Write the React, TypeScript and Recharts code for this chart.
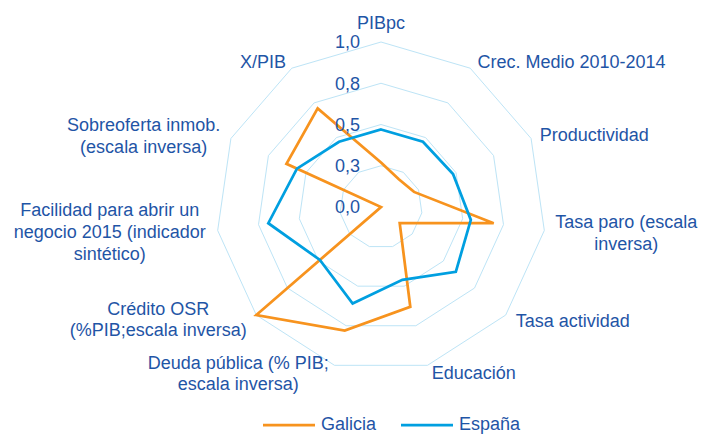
import React from "react";
import {
  RadarChart, Radar, PolarGrid, PolarAngleAxis, PolarRadiusAxis, Legend,
} from "recharts";

const CATEGORIES = [
  "PIBpc",
  "Crec. Medio 2010-2014",
  "Productividad",
  "Tasa paro (escala\ninversa)",
  "Tasa actividad",
  "Educación",
  "Deuda pública (% PIB;\nescala inversa)",
  "Crédito OSR\n(%PIB;escala inversa)",
  "Facilidad para abrir un\nnegocio 2015 (indicador\nsintético)",
  "Sobreoferta inmob.\n(escala inversa)",
  "X/PIB",
];

const GALICIA = [0.27, 0.2, 0.22, 0.69, 0.15, 0.63, 0.78, 1.0, 0.0, 0.63, 0.71];
const ESPANA = [0.47, 0.47, 0.48, 0.55, 0.6, 0.46, 0.61, 0.49, 0.69, 0.56, 0.47];

const RADIUS_TICKS = [0, 0.25, 0.5, 0.75, 1];

const TEXT_BLUE = "#1f55a6";
const ORANGE = "#f7931e";
const BLUE = "#009fe0";
const GRID = "#bde4f6";
const FONT = "'Liberation Sans', Arial, sans-serif";

// label block offsets (centre x, first line y) from the tick point recharts gives
const LABEL_SHIFT: [number, number][] = [
  [0, -11], [97, 0], [56, 0], [74, -10], [61, 0], [44, 0],
  [-94, -10.5], [-92, -12], [-100, -21.5], [-80, -10], [-24.5, 0],
];
const LINE_H = 21.7;

const data = CATEGORIES.map((cat, i) => ({
  cat,
  galicia: GALICIA[i],
  espana: ESPANA[i],
}));

function AngleTick(props: any) {
  const { x, y, payload } = props;
  const idx = CATEGORIES.indexOf(payload.value);
  const [dx, dy] = LABEL_SHIFT[idx] || [0, 0];
  const lines = String(payload.value).split("\n");
  return (
    <text textAnchor="middle" fill={TEXT_BLUE} fontSize={18} fontFamily={FONT}>
      {lines.map((ln, i) => (
        <tspan key={i} x={x + dx} y={y + dy + i * LINE_H} dy="0.35em">{ln}</tspan>
      ))}
    </text>
  );
}

function RadiusTick(props: any) {
  const { x, y, payload } = props;
  return (
    <text x={x - 21} y={y} dy="0.35em" textAnchor="end" fill={TEXT_BLUE} fontSize={18} fontFamily={FONT}>
      {Number(payload.value).toFixed(1).replace(".", ",")}
    </text>
  );
}

function LegendContent() {
  const items = [
    { name: "Galicia", color: ORANGE },
    { name: "España", color: BLUE },
  ];
  return (
    <div style={{ display: "flex", justifyContent: "center", gap: 25, paddingLeft: 81, fontFamily: FONT, fontSize: 18, color: TEXT_BLUE }}>
      {items.map((it) => (
        <div key={it.name} style={{ display: "flex", alignItems: "center", gap: 6 }}>
          <svg width={52} height={4}>
            <line x1={0} y1={2} x2={52} y2={2} stroke={it.color} strokeWidth={2.75} />
          </svg>
          <span>{it.name}</span>
        </div>
      ))}
    </div>
  );
}

export default function App() {
  return (
    <div style={{ position: "absolute", left: 0, top: 0, width: 702, height: 434, background: "#fff" }}>
      <RadarChart
        width={702}
        height={434}
        data={data}
        cx={381}
        cy={207}
        outerRadius={165}
        margin={{ top: 0, right: 0, bottom: 0, left: 0 }}
      >
        <PolarGrid gridType="polygon" radialLines={false} stroke={GRID} strokeWidth={1} />
        <PolarAngleAxis dataKey="cat" tick={<AngleTick />} tickLine={false} axisLine={false} />
        <PolarRadiusAxis
          angle={90}
          domain={[0, 1]}
          ticks={RADIUS_TICKS}
          tick={<RadiusTick />}
          axisLine={false}
          tickLine={false}
        />
        <Radar name="Galicia" dataKey="galicia" stroke={ORANGE} strokeWidth={2.75} fill="none" fillOpacity={0} dot={false} isAnimationActive={false} />
        <Radar name="España" dataKey="espana" stroke={BLUE} strokeWidth={2.75} fill="none" fillOpacity={0} dot={false} isAnimationActive={false} />
        <Legend
          verticalAlign="bottom"
          content={<LegendContent />}
          wrapperStyle={{ left: 0, top: 414, width: 702, height: 24 }}
        />
      </RadarChart>
    </div>
  );
}
